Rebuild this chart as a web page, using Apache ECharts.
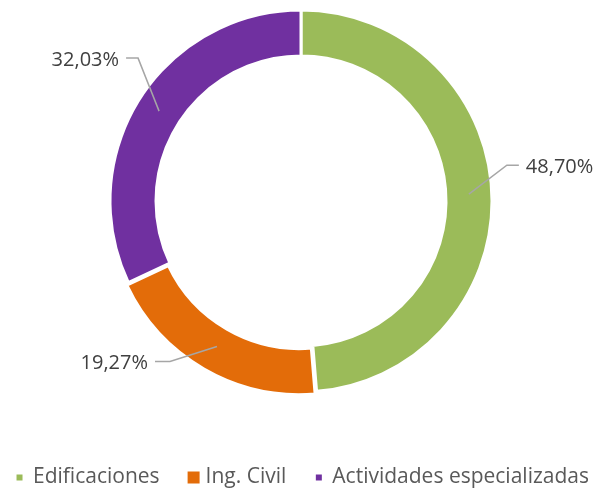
<!DOCTYPE html>
<html>
<head>
<meta charset="utf-8">
<script src="https://cdn.jsdelivr.net/npm/echarts@6/dist/echarts.min.js"></script>
<style>
  html, body { margin: 0; padding: 0; background: #fff; }
  #chart { width: 602px; height: 489px; }
</style>
</head>
<body>
<div id="chart"></div>
<script>
const categories = ['Edificaciones', 'Ing. Civil', 'Actividades especializadas']
const shares = [48.70, 19.27, 32.03]
const colors = ['#9BBB59', '#E36C09', '#7030A0']
// leader elbow offset from slice middle, and horizontal tail (px)
const elbows = [[38, -29, 12], [-47, 15, -15], [-21, -53, -12]]

const chart = echarts.init(document.getElementById('chart'))

const cx = 301, cy = 201, rIn = 145, rOut = 191
const rMid = (rIn + rOut) / 2
const total = shares.reduce((a, b) => a + b, 0)

function midPoint(idx) {
  let before = 0
  for (let i = 0; i < idx; i++) before += shares[i]
  const a = (before + shares[idx] / 2) / total * Math.PI * 2
  return [cx + rMid * Math.sin(a), cy - rMid * Math.cos(a)]
}

const pieData = categories.map((name, i) => ({
  name,
  value: shares[i],
  selected: i === 1, // orange slice sits slightly pulled out
  itemStyle: { color: colors[i] }
}))

chart.setOption({
  animation: false,
  legend: {
    top: 462,
    left: 'center',
    itemGap: 26,
    itemWidth: 14,
    itemHeight: 14,
    textStyle: { fontFamily: 'Open Sans', fontSize: 21, color: '#595959' },
    data: categories.map((name, i) => ({
      name,
      // orange marker is drawn larger in the original
      icon: i === 1 ? 'rect' : 'path://M0,0M14,14M1.5,3h8v8h-8z'
    }))
  },
  series: [{
    type: 'pie',
    center: [cx, cy],
    radius: [rIn, rOut],
    startAngle: 90,
    clockwise: true,
    selectedMode: 'single',
    selectedOffset: 3,
    itemStyle: { borderColor: '#fff', borderWidth: 3 },
    label: { show: false },
    labelLine: { show: false },
    data: pieData
  }, {
    // transparent copy on top so the leader lines cross the ring
    type: 'pie',
    z: 5,
    silent: true,
    center: [cx, cy],
    radius: [rIn, rOut],
    startAngle: 90,
    clockwise: true,
    avoidLabelOverlap: false,
    itemStyle: { color: 'rgba(0,0,0,0)', borderWidth: 0 },
    label: {
      show: true,
      position: 'outside',
      formatter: p => p.value.toFixed(2).replace('.', ',') + '%',
      fontFamily: 'Open Sans',
      fontSize: 20,
      color: '#404040'
    },
    labelLine: {
      show: true,
      lineStyle: { color: '#A6A6A6', width: 1.5 }
    },
    labelLayout: params => {
      const i = params.dataIndex
      const p0 = midPoint(i)
      const e = elbows[i]
      const p1 = [p0[0] + e[0], p0[1] + e[1]]
      const p2 = [p1[0] + e[2], p1[1]]
      const right = e[2] > 0
      return {
        x: p2[0] + (right ? 7 : -7),
        y: p2[1] + 2,
        align: right ? 'left' : 'right',
        verticalAlign: 'middle',
        labelLinePoints: [p0, p1, p2]
      }
    },
    data: pieData.map(d => ({ name: d.name, value: d.value }))
  }]
})
</script>
</body>
</html>
